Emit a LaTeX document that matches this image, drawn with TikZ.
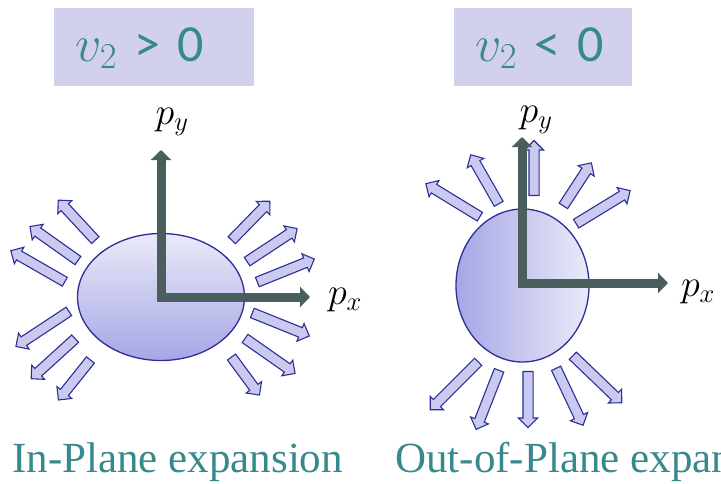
\documentclass[tikz,border=0pt]{standalone}
\usepackage{fix-cm}
\usepackage{fontspec}
\setmainfont{Liberation Serif}
\newfontfamily\calibfont{Carlito}
\usetikzlibrary{arrows.meta,positioning,shapes.geometric,shapes.arrows,calc}

\definecolor{tealtext}{RGB}{56,137,140}
\definecolor{boxfill}{RGB}{209,209,238}
\definecolor{axisgray}{RGB}{74,94,94}
\definecolor{rimblue}{RGB}{46,46,150}
\definecolor{bloblight}{RGB}{234,234,249}
\definecolor{blobdark}{RGB}{166,166,230}
\definecolor{flowfill}{RGB}{202,202,240}

\begin{document}
\begin{tikzpicture}[x=1pt, y=-1pt,
  signbox/.style={
    fill=boxfill, anchor=west,
    minimum height=78pt, inner xsep=21pt, inner ysep=0pt,
    text height=38pt, text depth=10pt,
    align=left, text=tealtext, font=\fontsize{52}{60}\selectfont,
  },
  blob/.style={ellipse, draw=rimblue, line width=1.3pt, inner sep=0pt},
  flow/.style={
    single arrow, draw=rimblue, line width=1.1pt, fill=flowfill,
    text height=4.5pt, text depth=4.5pt, text width=0pt,
    single arrow head extend=4.5pt,
    single arrow tip angle=90, inner sep=0pt,
  },
  axis/.style={
    axisgray, line width=9pt, line join=miter,
    {Triangle[length=10pt,width=20pt]}-{Triangle[length=10pt,width=20pt]},
  },
  mom/.style={font=\fontsize{38}{44}\selectfont},
  caption/.style={text=tealtext, font=\fontsize{43}{50}\selectfont, anchor=base west, inner sep=0pt},
]
\useasboundingbox (0,0) rectangle (721,483);
\clip (0,0) rectangle (721,483);

% Sign boxes
\node[signbox, text width=158pt] (signin) at (54,47) {$v_2$ {\calibfont > 0}};
\node[signbox, text width=136pt] (signout) at (454,47) {$v_2$ {\calibfont < 0}};

% In-plane: flattened source, flow along p_x
\coordinate (in0) at (161,297);
\coordinate (inX) at (310,297);
\coordinate (inY) at (161,150);
\node[blob, minimum width=167pt, minimum height=127pt,
  top color=bloblight, bottom color=blobdark] (inblob) at (in0) {};
\foreach \tx/\ty/\hx/\hy [count=\i] in {
    97/242/60/202, 80/262/32/228, 67/283/13/252,
    71/310/18/345, 77/337/33/377, 92/358/60/398,
    230/242/268/203, 245/263/295/230, 255/283/312/260,
    250/312/307/335, 243/337/293/372, 230/355/258/393} {
  \coordinate (int\i) at (\tx,\ty);
  \coordinate (inh\i) at (\hx,\hy);
  \path let \p1=($(inh\i)-(int\i)$), \n1={atan2(\y1,\x1)}, \n2={veclen(\x1,\y1)} in
    node[flow, rotate=\n1, minimum height=\n2] (inflow\i) at ($(int\i)!0.5!(inh\i)$) {};
}
\draw[axis] (inY) -- (in0) -- (inX);
\node[mom] (inpy) at (172,122) {$p_y$};
\node[mom] (inpx) at (345,300) {$p_x$};

% Out-of-plane: tall source, flow along p_y
\coordinate (out0) at (522,283);
\coordinate (outX) at (668,283);
\coordinate (outY) at (522,137);
\node[blob, minimum width=133pt, minimum height=153pt,
  left color=blobdark, right color=bloblight] (outblob) at (522.5,285.5) {};
\foreach \tx/\ty/\hx/\hy [count=\i] in {
    534/198/534/143, 500/206/472/157, 482/218/428/185,
    562/208/590/165, 574/225/628/192,
    480/360/432/408, 500/368/477/427, 528/369/528/425,
    555/366/582/423, 571/354/620/401} {
  \coordinate (outt\i) at (\tx,\ty);
  \coordinate (outh\i) at (\hx,\hy);
  \path let \p1=($(outh\i)-(outt\i)$), \n1={atan2(\y1,\x1)}, \n2={veclen(\x1,\y1)} in
    node[flow, rotate=\n1, minimum height=\n2] (outflow\i) at ($(outt\i)!0.5!(outh\i)$) {};
}
\draw[axis] (outY) -- (out0) -- (outX);
\node[mom] (outpy) at (536,120) {$p_y$};
\node[mom] (outpx) at (698,292) {$p_x$};

% Captions
\node[caption] (incap) at (12,472) {In-Plane expansion};
\node[caption] (outcap) at (395,472) {Out-of-Plane expansion};

\end{tikzpicture}
\end{document}
